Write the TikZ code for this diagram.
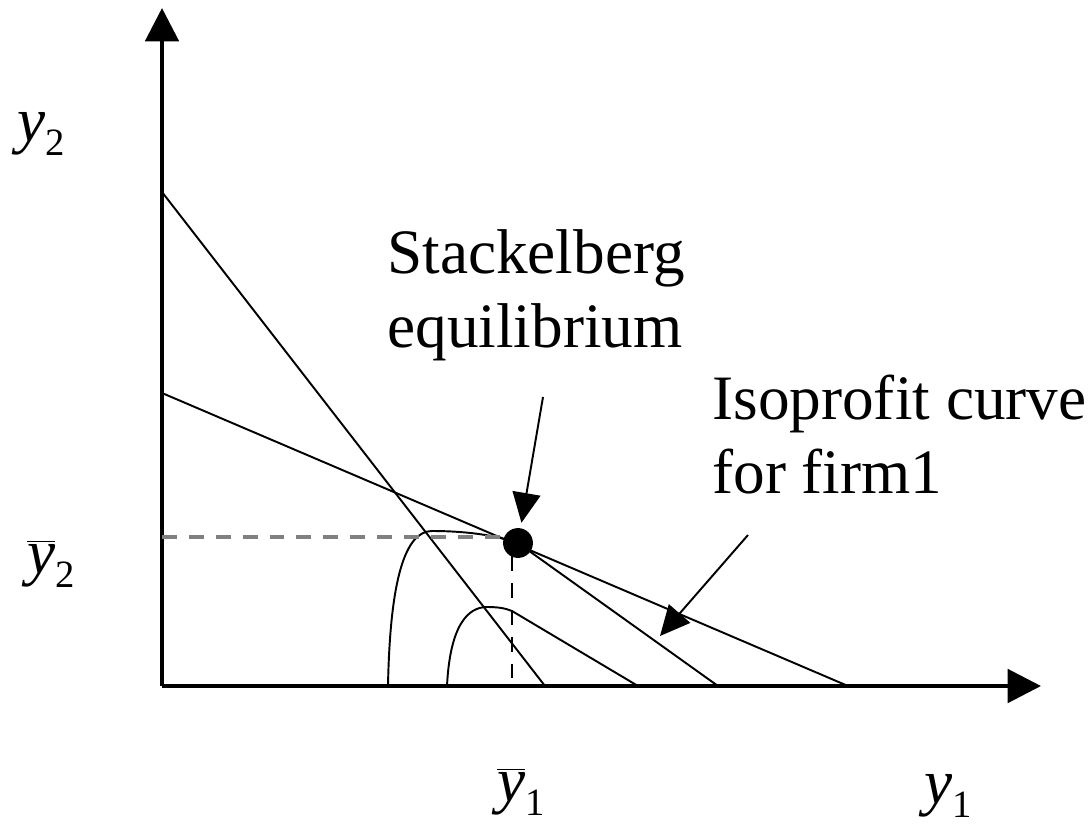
\documentclass[tikz,border=0pt]{standalone}
\usepackage{fontspec}
\setmainfont{Liberation Serif}
\usetikzlibrary{arrows.meta}

\newcommand{\yvar}[1]{\textit{y}\raisebox{-8.5pt}{\fontsize{22}{22}\selectfont #1}}
\newcommand{\ybar}[1]{$\overline{\mbox{\textit{y}}}$\raisebox{-8.5pt}{\fontsize{22}{22}\selectfont #1}}

\begin{document}
\begin{tikzpicture}[x=0.02cm,y=-0.02cm,font=\fontsize{36}{42}\selectfont,
  axis/.style={line width=2.3pt,-{Triangle[length=19pt,width=19pt]}},
  curve/.style={line width=1.1pt},
  pointer/.style={line width=1.1pt,-{Triangle[length=17pt,width=16pt]}},
  guide/.style={dash pattern=on 8.5pt off 6.8pt},
  lbl/.style={inner sep=0pt,anchor=base west}]
\useasboundingbox (0,0) rectangle (1089,832);
% axes
\coordinate (O) at (162,686);
\coordinate (ytop) at (162,8);
\coordinate (xend) at (1041,686);
\draw[axis] (O) -- (ytop);
\draw[axis] (O) -- (xend);
% reaction lines
\coordinate (r2a) at (162,192);
\coordinate (r2b) at (545,686);
\coordinate (r1a) at (162,393);
\coordinate (r1b) at (848,686);
\draw[curve] (r2a) -- (r2b);
\draw[curve] (r1a) -- (r1b);
% equilibrium point
\node[circle,fill,minimum size=17pt,inner sep=0pt] (eq) at (518,543) {};
% isoprofit curves
\draw[curve] (388,686) .. controls (390,580) and (405,531) .. (432,531)
  .. controls (465,531) and (495,535) .. (eq.center) -- (718,686);
\draw[curve] (447,686) .. controls (450,625) and (468,607) .. (487,607)
  .. controls (497,607) and (505,608) .. (512,611) -- (638,686);
% guides
\draw[guide,black!50,line width=1.8pt] (162,537) -- (505,537);
\draw[guide,line width=1.2pt] (512,556) -- (512,686);
% labels
\node[lbl] (ly2) at (17,141) {\yvar{2}};
\node[lbl] (lyb2) at (27,573) {\ybar{2}};
\node[lbl] (lyb1) at (497,801) {\ybar{1}};
\node[lbl] (ly1) at (924,803) {\yvar{1}};
\node[lbl,align=left] (stack) at (387,347) {Stackelberg\\equilibrium};
\node[lbl,align=left] (iso) at (712,493) {Isoprofit curve\\for firm1};
% pointers
\coordinate (p1) at (543,397);
\coordinate (p2) at (748,535);
\coordinate (p2tip) at (660,636);
\draw[pointer,shorten >=3pt] (p1) -- (eq);
\draw[pointer] (p2) -- (p2tip);
\end{tikzpicture}
\end{document}
